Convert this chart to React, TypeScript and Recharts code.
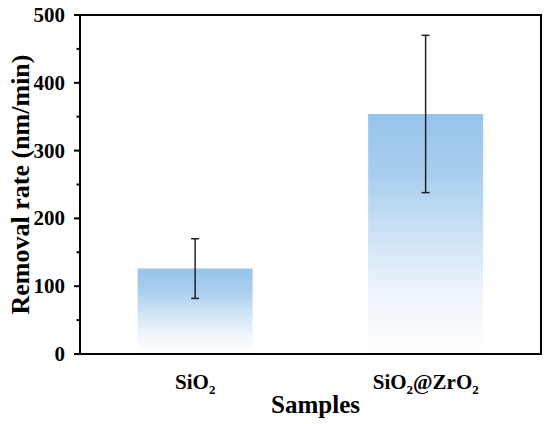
import React from 'react';
import { Bar, BarChart, ErrorBar, ReferenceArea, XAxis, YAxis } from 'recharts';

const samples = ['SiO2', 'SiO2@ZrO2'];
const removalRate = [126, 354];
const removalError = [44, 116];
const yTicks = [0, 50, 100, 150, 200, 250, 300, 350, 400, 450, 500];

const data = samples.map((name, i) => ({ name, rate: removalRate[i], err: removalError[i] }));

const FONT = '"Liberation Serif", "Times New Roman", serif';

// draws "SiO2" style labels with the digits lowered
function Chem({ text, x, y, size }: { text: string; x: number; y: number; size: number }) {
  const parts = text.split(/(\d)/).filter((p) => p !== '');
  return (
    <text x={x} y={y} textAnchor="middle" fontFamily={FONT} fontWeight="bold" fontSize={size} fill="#000">
      {parts.map((p, i) =>
        /\d/.test(p) ? (
          <tspan key={i} fontSize={size * 0.62} dy={5}>{p}</tspan>
        ) : (
          <tspan key={i} dy={i > 0 && /\d/.test(parts[i - 1]) ? -5 : 0}>{p}</tspan>
        )
      )}
    </text>
  );
}

function XTick(props: any) {
  const { x, y, payload } = props;
  return <Chem text={payload.value} x={x} y={y + 35} size={21} />;
}

function YTick(props: any) {
  const { x, y, payload } = props;
  const major = payload.value % 100 === 0;
  return (
    <g>
      <line x1={x - (major ? 6 : 3.5)} x2={x} y1={y} y2={y} stroke="#000" strokeWidth={2} />
      {major && (
        <text x={x - 15} y={y} dy={7} textAnchor="end" fontFamily={FONT} fontWeight="bold" fontSize={21} fill="#000">
          {payload.value}
        </text>
      )}
    </g>
  );
}

function YTitle(props: any) {
  const { viewBox } = props;
  const cx = viewBox.x + 29;
  const cy = viewBox.y + viewBox.height / 2;
  return (
    <text x={cx} y={cy} transform={`rotate(-90, ${cx}, ${cy})`} textAnchor="middle" fontFamily={FONT} fontWeight="bold" fontSize={26} fill="#000">
      Removal rate (nm/min)
    </text>
  );
}

function XTitle(props: any) {
  const { viewBox } = props;
  const cx = viewBox.x + viewBox.width / 2 + 5;
  return (
    <text x={cx} y={413} textAnchor="middle" fontFamily={FONT} fontWeight="bold" fontSize={25} fill="#000">
      Samples
    </text>
  );
}

export default function App() {
  return (
    <div style={{ position: 'absolute', left: 0, top: 0, background: '#fff' }}>
      <BarChart width={550} height={424} data={data} margin={{ top: 15, right: 9, bottom: 0, left: 0 }} barCategoryGap="25%">
        <defs>
          <linearGradient id="barFill" x1="0" y1="0" x2="0" y2="1">
            <stop offset="0%" stopColor="#96C4EA" />
            <stop offset="25%" stopColor="#A8CEEE" />
            <stop offset="50%" stopColor="#CDE2F5" />
            <stop offset="75%" stopColor="#EEF5FC" />
            <stop offset="100%" stopColor="#FFFFFF" />
          </linearGradient>
        </defs>
        <XAxis
          dataKey="name"
          axisLine={{ stroke: '#000', strokeWidth: 2 }}
          tickLine={false}
          tickSize={0}
          tickMargin={0}
          tick={<XTick />}
          height={70}
          label={<XTitle />}
        />
        <YAxis
          domain={[0, 500]}
          ticks={yTicks}
          interval={0}
          width={80}
          axisLine={{ stroke: '#000', strokeWidth: 2 }}
          tickLine={false}
          tickSize={0}
          tickMargin={0}
          tick={<YTick />}
          label={<YTitle />}
        />
        {/* plot frame */}
        <ReferenceArea y1={0} y2={500} fill="none" fillOpacity={0} stroke="#000" strokeWidth={2} />
        <Bar dataKey="rate" fill="url(#barFill)" isAnimationActive={false}>
          <ErrorBar dataKey="err" width={4} stroke="#222" strokeWidth={1.5} direction="y" />
        </Bar>
      </BarChart>
    </div>
  );
}
